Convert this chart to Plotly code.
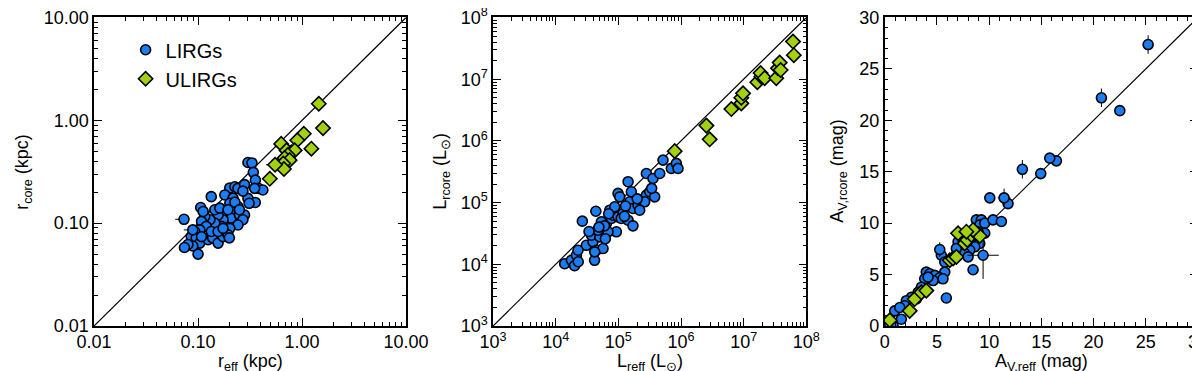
import plotly.graph_objects as go

# ---------------- panel 1: r_eff vs r_core (kpc) ----------------
lirg_reff = [0.302, 0.330, 0.34, 0.356, 0.38, 0.42, 0.35, 0.134, 0.106, 0.202,
             0.226, 0.242, 0.28, 0.181, 0.302, 0.355, 0.27, 0.217, 0.202, 0.242,
             0.226, 0.188, 0.208, 0.174, 0.156, 0.145, 0.162, 0.25, 0.28, 0.27,
             0.242, 0.202, 0.168, 0.145, 0.13, 0.116, 0.108, 0.12, 0.104, 0.093,
             0.086, 0.096, 0.104, 0.089, 0.08, 0.074, 0.10, 0.125, 0.138, 0.156,
             0.174, 0.194, 0.20, 0.108, 0.134, 0.156, 0.174, 0.226, 0.31, 0.194,
             0.25, 0.112]
lirg_rcore = [0.389, 0.385, 0.312, 0.262, 0.218, 0.21, 0.218, 0.181, 0.142, 0.22,
              0.226, 0.218, 0.237, 0.188, 0.174, 0.159, 0.205, 0.175, 0.156, 0.145,
              0.130, 0.125, 0.112, 0.108, 0.120, 0.135, 0.140, 0.12, 0.12, 0.108,
              0.096, 0.089, 0.093, 0.10, 0.108, 0.116, 0.104, 0.093, 0.086, 0.083,
              0.074, 0.072, 0.064, 0.060, 0.062, 0.058, 0.050, 0.069, 0.072, 0.064,
              0.074, 0.077, 0.072, 0.074, 0.083, 0.083, 0.089, 0.16, 0.156, 0.135,
              0.135, 0.13]
# points with a visible error bar (left side)
lirg_reff_e = [0.0733, 0.089]
lirg_rcore_e = [0.109, 0.086]
lirg_reff_em = [0.013, 0.016]

ulirg_reff = [1.45, 1.59, 1.04, 0.90, 1.23, 0.63, 0.71, 0.79, 0.85, 0.73,
              0.68, 0.76, 0.66, 0.67, 0.49]
ulirg_rcore = [1.45, 0.84, 0.74, 0.64, 0.53, 0.59, 0.51, 0.49, 0.51, 0.46,
               0.43, 0.41, 0.38, 0.336, 0.27]
ulirg_reff_e = [0.55]
ulirg_rcore_e = [0.37]
ulirg_reff_em = [0.10]

# ---------------- panel 2: L_reff vs L_rcore (Lsun) ----------------
lirg_lreff = [1.39e4, 1.78e4, 2.14e4, 2.0e4, 2.29e4, 2.66e4, 4.37e4, 4.17e4, 3.08e4, 3.94e4,
              3.71e4, 5.05e4, 5.69e4, 4.73e4, 6.43e4, 5.35e4, 7.73e4, 8.22e4, 9.89e4, 1.19e5,
              1.11e5, 1.43e5, 1.71e5, 9.29e4, 6.84e4, 4.45e4, 5.69e4, 4.19e4, 9.89e4, 1.05e5,
              1.52e5, 1.71e5, 2.06e5, 2.33e5, 2.80e5, 3.16e5, 3.80e5, 2.63e5, 2.19e5, 1.61e5,
              1.43e5, 2.80e5, 3.57e5, 4.57e5, 5.16e5, 7.0e5, 8.41e5, 8.95e5, 7.28e4, 8.75e4,
              2.27e4, 3.4e4, 6.0e4, 7.0e4, 1.3e5, 2.0e5, 3.4e5, 6.2e4, 4.9e4, 1.25e5]
lirg_lrcore = [1.02e4, 1.16e4, 1.40e4, 9.5e3, 1.10e4, 5.0e4, 7.24e4, 1.16e4, 2.03e4, 2.31e4,
               2.96e4, 2.78e4, 3.79e4, 3.56e4, 4.58e4, 4.88e4, 5.52e4, 6.24e4, 5.87e4, 6.65e4,
               5.52e4, 5.18e4, 4.20e4, 3.36e4, 3.36e4, 1.69e4, 1.80e4, 1.59e4, 1.41e5, 1.24e5,
               1.03e5, 8.02e4, 9.08e4, 1.09e5, 1.32e5, 1.50e5, 1.24e5, 1.03e5, 7.53e4, 1.50e5,
               2.18e5, 2.96e5, 2.46e5, 2.96e5, 4.88e5, 3.58e5, 4.32e5, 3.58e5, 7.53e4, 8.55e4,
               1.69e4, 3.4e4, 4.2e4, 6.6e4, 8.8e4, 1.15e5, 1.70e5, 2.6e4, 4.0e4, 6.0e4]

ulirg_lreff = [7.93e5, 2.54e6, 2.86e6, 6.35e6, 9.16e6, 9.16e6, 9.75e6, 1.65e7, 1.91e7, 1.86e7,
               2.16e7, 3.31e7, 3.52e7, 3.75e7, 3.89e7, 6.12e7, 6.31e7]
ulirg_lrcore = [6.82e5, 1.77e6, 1.06e6, 3.28e6, 4.06e6, 5.01e6, 5.90e6, 8.91e6, 1.10e7, 1.26e7,
                1.04e7, 1.04e7, 1.50e7, 1.86e7, 1.41e7, 4.07e7, 2.45e7]

# ---------------- panel 3: A_V,reff vs A_V,rcore (mag) ----------------
lirg_av_reff = [8.77, 9.25, 9.1, 9.58, 10.37, 11.17, 9.58, 8.94, 9.1, 8.62,
                8.46, 5.9, 5.42, 5.75, 5.75, 3.98, 4.31, 4.79, 5.27, 5.58,
                4.63, 3.83, 4.15, 3.51, 3.19, 3.03, 2.55, 2.07, 1.92, 0.96,
                1.44, 1.59, 0.8, 7.02, 7.5, 7.82, 8.14, 7.34, 6.86, 7.66,
                7.98, 22.51, 16.44, 10.06, 11.81, 15.8]
lirg_av_rcore = [10.32, 10.32, 9.83, 10.0, 10.32, 10.16, 9.02, 9.17, 8.03, 7.70,
                 5.47, 2.72, 6.88, 6.22, 5.24, 5.24, 5.08, 4.92, 4.69, 4.59,
                 4.42, 4.59, 4.75, 3.77, 3.27, 2.63, 2.78, 2.46, 1.97, 1.47,
                 1.8, 0.66, 0.0, 8.19, 8.03, 7.70, 7.37, 7.21, 7.54, 7.05,
                 6.72, 20.94, 16.06, 12.46, 11.9, 16.32]
lirg_av_reff_e = [25.22, 20.75, 13.18, 14.94, 11.43, 9.42, 5.27]
lirg_av_rcore_e = [27.37, 22.19, 15.24, 14.82, 12.46, 6.88, 7.44]
lirg_av_reff_err = [0.0, 0.0, 0.0, 0.3, 0.6, 1.5, 0.0]
lirg_av_rcore_err = [0.9, 0.9, 0.9, 0.5, 0.9, 2.3, 0.7]

ulirg_av_reff = [0.48, 2.39, 2.87, 3.51, 3.98, 6.23, 6.54, 6.86, 7.02, 7.66,
                 7.91, 8.3, 8.77, 9.1, 8.46, 7.82]
ulirg_av_rcore = [0.56, 1.47, 2.62, 3.27, 3.44, 6.39, 6.56, 6.72, 9.02, 8.03,
                  8.36, 8.85, 9.02, 8.75, 9.34, 9.17]

BLUE = "#1c7cf4"
GREEN = "#a2d10e"
FONT = "Liberation Sans, Arial, Helvetica, sans-serif"

circ = dict(symbol="circle", size=10, color=BLUE, line=dict(color="black", width=1.6))
diam = dict(symbol="diamond", size=11, color=GREEN, line=dict(color="black", width=1.6))
errst = dict(color="black", thickness=1, width=0)

fig = go.Figure()

# 1:1 lines
for xa, ya, lo, hi in [("x", "y", 0.01, 10), ("x2", "y2", 1e3, 1e8), ("x3", "y3", 0, 30)]:
    fig.add_trace(go.Scatter(x=[lo, hi], y=[lo, hi], mode="lines", xaxis=xa, yaxis=ya,
                             line=dict(color="black", width=1.2), showlegend=False, hoverinfo="skip"))

# panel 1
fig.add_trace(go.Scatter(x=lirg_reff, y=lirg_rcore, mode="markers", marker=circ,
                         name="LIRGs", xaxis="x", yaxis="y"))
fig.add_trace(go.Scatter(x=lirg_reff_e, y=lirg_rcore_e, mode="markers", marker=circ,
                         error_x=dict(type="data", symmetric=False, array=[0, 0],
                                      arrayminus=lirg_reff_em, **errst),
                         showlegend=False, xaxis="x", yaxis="y"))
fig.add_trace(go.Scatter(x=ulirg_reff, y=ulirg_rcore, mode="markers", marker=diam,
                         name="ULIRGs", xaxis="x", yaxis="y"))
fig.add_trace(go.Scatter(x=ulirg_reff_e, y=ulirg_rcore_e, mode="markers", marker=diam,
                         error_x=dict(type="data", symmetric=False, array=[0],
                                      arrayminus=ulirg_reff_em, **errst),
                         showlegend=False, xaxis="x", yaxis="y"))

# panel 2
fig.add_trace(go.Scatter(x=lirg_lreff, y=lirg_lrcore, mode="markers", marker=circ,
                         showlegend=False, xaxis="x2", yaxis="y2"))
fig.add_trace(go.Scatter(x=ulirg_lreff, y=ulirg_lrcore, mode="markers", marker=diam,
                         showlegend=False, xaxis="x2", yaxis="y2"))

# panel 3
fig.add_trace(go.Scatter(x=lirg_av_reff, y=lirg_av_rcore, mode="markers", marker=circ,
                         showlegend=False, xaxis="x3", yaxis="y3"))
fig.add_trace(go.Scatter(x=lirg_av_reff_e, y=lirg_av_rcore_e, mode="markers", marker=circ,
                         error_x=dict(type="data", array=lirg_av_reff_err, **errst),
                         error_y=dict(type="data", array=lirg_av_rcore_err, **errst),
                         showlegend=False, xaxis="x3", yaxis="y3"))
fig.add_trace(go.Scatter(x=ulirg_av_reff, y=ulirg_av_rcore, mode="markers", marker=diam,
                         showlegend=False, xaxis="x3", yaxis="y3"))


def log_minor(d0, d1):
    return [m * 10 ** d for d in range(d0, d1) for m in range(2, 10)]


base = dict(showline=True, linecolor="black", linewidth=1.5, mirror="ticks",
            ticks="inside", ticklen=8, tickwidth=1.2, tickcolor="black",
            showgrid=False, zeroline=False, automargin=False,
            ticklabeloverflow="allow",
            tickfont=dict(family=FONT, size=18, color="black"))

dom = [[0.0717, 0.3317], [0.4042, 0.6653], [0.7306, 0.9917]]
ydom = [0.1429, 0.9744]

p1_vals = [0.01, 0.1, 1, 10]
p1_text = ["0.01", "0.10", "1.00", "10.00"]
p2_vals = [1e3, 1e4, 1e5, 1e6, 1e7, 1e8]
p2_text = ["10<sup>%d</sup>" % k for k in range(3, 9)]
minor_log = dict(ticks="inside", ticklen=4, tickwidth=1, tickcolor="black", showgrid=False)

fig.update_layout(
    width=1200, height=371,
    margin=dict(l=0, r=0, t=0, b=0),
    paper_bgcolor="white", plot_bgcolor="white",
    font=dict(family=FONT, color="black"),
    legend=dict(x=0.098, y=0.94, xanchor="left", yanchor="top",
                font=dict(family=FONT, size=20, color="black"),
                bgcolor="rgba(0,0,0,0)", tracegroupgap=0),
    xaxis=dict(base, domain=dom[0], type="log", range=[-2, 1], anchor="y",
               tickvals=p1_vals, ticktext=p1_text, ticklabelstandoff=-1,
               minor=dict(minor_log, tickvals=log_minor(-2, 1))),
    yaxis=dict(base, domain=ydom, type="log", range=[-2, 1], anchor="x",
               tickvals=p1_vals, ticktext=p1_text,
               minor=dict(minor_log, tickvals=log_minor(-2, 1))),
    xaxis2=dict(base, domain=dom[1], type="log", range=[3, 8], anchor="y2",
                tickvals=p2_vals, ticktext=p2_text, ticklabelstandoff=-1,
                minor=dict(minor_log, tickvals=log_minor(3, 8))),
    yaxis2=dict(base, domain=ydom, type="log", range=[3, 8], anchor="x2",
                tickvals=p2_vals, ticktext=p2_text,
                minor=dict(minor_log, tickvals=log_minor(3, 8))),
    xaxis3=dict(base, domain=dom[2], range=[0, 30], anchor="y3",
                tickvals=[0, 5, 10, 15, 20, 25, 30], ticklabelstandoff=-1,
                minor=dict(minor_log, dtick=1)),
    yaxis3=dict(base, domain=ydom, range=[0, 30], anchor="x3",
                tickvals=[0, 5, 10, 15, 20, 25, 30],
                minor=dict(minor_log, dtick=1)),
)

# axis titles
xtitles = ["r<sub>eff</sub> (kpc)", "L<sub>reff</sub> (L<sub>⊙</sub>)", "A<sub>V,reff</sub> (mag)"]
ytitles = ["r<sub>core</sub> (kpc)", "L<sub>rcore</sub> (L<sub>⊙</sub>)", "A<sub>V,rcore</sub> (mag)"]
ytitle_x = [16 / 1200, 434 / 1200, 831 / 1200]
for i in range(3):
    fig.add_annotation(text=xtitles[i], xref="paper", yref="paper",
                       x=(dom[i][0] + dom[i][1]) / 2, y=1 - 354 / 371,
                       xanchor="center", yanchor="middle", showarrow=False,
                       font=dict(family=FONT, size=18, color="black"))
    fig.add_annotation(text=ytitles[i], xref="paper", yref="paper",
                       x=ytitle_x[i], y=(ydom[0] + ydom[1]) / 2, textangle=-90,
                       xanchor="center", yanchor="middle", showarrow=False,
                       font=dict(family=FONT, size=18, color="black"))

fig.write_html("out.html")
